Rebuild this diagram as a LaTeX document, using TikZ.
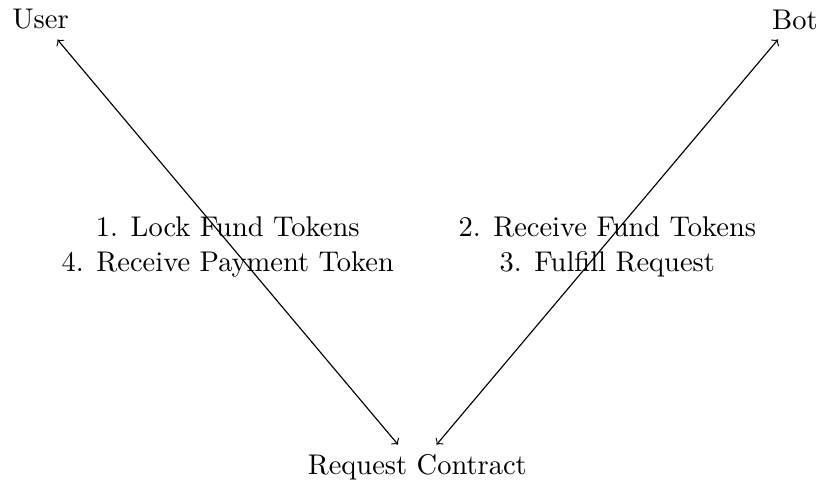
\documentclass[tikz,border=0pt]{standalone}
\usepackage{tikz}
\usetikzlibrary{arrows.meta}
\tikzset{
    party/.style={
        font=\normalfont
    },
    exchange/.style={
        <->,
        >=to,
        line width=0.4pt
    },
    steplabel/.style={
        align=center,
        font=\normalfont,
        yshift=-0.06cm
    }
}

\begin{document}
\begin{tikzpicture}
\useasboundingbox (0, 0) rectangle (10.12, 6.01);

% Parties
\node[party] (user) at (0.5, 5.77) {User};
\node[party] (bot) at (9.81, 5.77) {Bot};
\node[party] (contract) at (5.15, 0.24) {Request Contract};

% Exchanges
\draw[exchange] (user) -- (contract)
    node[steplabel, midway] (userlabel) {1. Lock Fund Tokens\\4. Receive Payment Token};
\draw[exchange] (bot) -- (contract)
    node[steplabel, midway] (botlabel) {2. Receive Fund Tokens\\3. Fulfill Request};
\end{tikzpicture}
\end{document}
